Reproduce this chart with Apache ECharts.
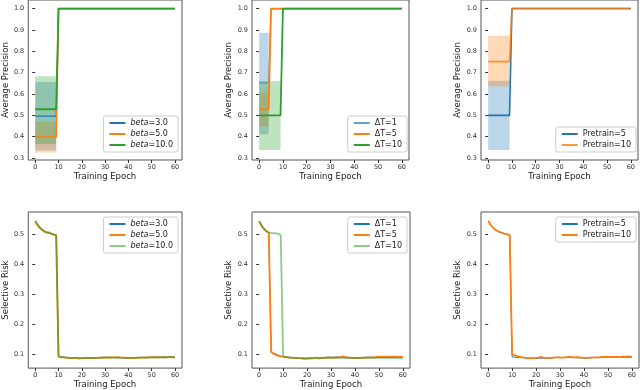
<!DOCTYPE html>
<html>
<head>
<meta charset="utf-8">
<script src="https://cdn.jsdelivr.net/npm/echarts@6/dist/echarts.min.js"></script>
<style>
html, body { margin: 0; padding: 0; background: #fff; }
#chart { width: 640px; height: 390px; }
</style>
</head>
<body>
<div id="chart"></div>
<script>
// epochs for the risk curves
var epochs = Array.from({ length: 61 }, function (_, i) { return i; });
var xTicks = [0, 10, 20, 30, 40, 50, 60];
var apTicks = [0.3, 0.4, 0.5, 0.6, 0.7, 0.8, 0.9, 1.0];
var riskTicks = [0.1, 0.2, 0.3, 0.4, 0.5];

// average precision (mean) and band [epoch, low, high]
var apBeta3 = [[0, 0.496], [9, 0.496], [10, 1.0], [60, 1.0]];
var apBeta5 = [[0, 0.397], [9, 0.397], [10, 1.0], [60, 1.0]];
var apBeta10 = [[0, 0.528], [9, 0.528], [10, 1.0], [60, 1.0]];
var apBeta3Band = [[0, 0.335, 0.656], [9, 0.335, 0.656]];
var apBeta5Band = [[0, 0.325, 0.470], [9, 0.325, 0.470]];
var apBeta10Band = [[0, 0.365, 0.683], [9, 0.365, 0.683]];

var apDT1 = [[0, 0.651], [4, 0.651], [5, 1.0], [60, 1.0]];
var apDT5 = [[0, 0.527], [4, 0.527], [5, 1.0], [60, 1.0]];
var apDT10 = [[0, 0.499], [9, 0.499], [10, 1.0], [60, 1.0]];
var apDT1Band = [[0, 0.411, 0.887], [4, 0.411, 0.887]];
var apDT5Band = [[0, 0.447, 0.607], [4, 0.447, 0.607]];
var apDT10Band = [[0, 0.337, 0.660], [9, 0.337, 0.660]];

var apPre5 = [[0, 0.499], [9, 0.499], [10, 1.0], [60, 1.0]];
var apPre10 = [[0, 0.751], [9, 0.751], [10, 1.0], [60, 1.0]];
var apPre5Band = [[0, 0.337, 0.662], [9, 0.337, 0.662]];
var apPre10Band = [[0, 0.635, 0.872], [9, 0.635, 0.872]];

// selective risk per epoch 0..60
var riskBeta3 = [0.545,0.533,0.523,0.516,0.511,0.507,0.505,0.503,0.500,0.499,
  0.093,0.091,0.090,0.089,0.089,0.088,0.088,0.087,0.087,0.087,0.086,
  0.087,0.087,0.088,0.088,0.087,0.088,0.089,0.089,0.088,0.090,
  0.089,0.089,0.090,0.089,0.088,0.089,0.089,0.088,0.088,0.087,
  0.088,0.088,0.089,0.089,0.089,0.090,0.089,0.090,0.090,0.090,
  0.090,0.090,0.091,0.090,0.092,0.091,0.091,0.090,0.091,0.091];
var riskBeta5 = [0.543,0.531,0.521,0.515,0.509,0.506,0.507,0.502,0.499,0.497,
  0.092,0.090,0.090,0.089,0.088,0.088,0.087,0.088,0.087,0.086,0.087,
  0.087,0.088,0.087,0.088,0.088,0.087,0.088,0.089,0.090,0.089,
  0.090,0.089,0.089,0.090,0.091,0.090,0.089,0.089,0.088,0.088,
  0.087,0.087,0.088,0.089,0.089,0.089,0.090,0.089,0.090,0.090,
  0.091,0.090,0.090,0.091,0.090,0.090,0.091,0.091,0.090,0.090];
var riskBeta10 = [0.546,0.534,0.524,0.517,0.511,0.508,0.505,0.503,0.501,0.499,
  0.093,0.092,0.091,0.090,0.089,0.088,0.088,0.088,0.087,0.087,0.087,
  0.088,0.087,0.087,0.088,0.088,0.088,0.088,0.089,0.089,0.089,
  0.090,0.090,0.090,0.089,0.089,0.089,0.088,0.088,0.088,0.088,
  0.088,0.088,0.088,0.089,0.089,0.089,0.089,0.089,0.090,0.090,
  0.090,0.090,0.090,0.090,0.090,0.090,0.091,0.091,0.091,0.090];

var riskDT1 = [0.545,0.531,0.520,0.512,0.507,
  0.111,0.104,0.101,0.097,0.094,
  0.092,0.091,0.090,0.089,0.089,0.088,0.088,0.087,0.087,0.087,0.086,
  0.087,0.088,0.089,0.088,0.090,0.089,0.089,0.090,0.091,0.090,
  0.090,0.091,0.091,0.090,0.092,0.091,0.090,0.089,0.088,0.088,
  0.088,0.089,0.089,0.090,0.090,0.090,0.091,0.090,0.090,0.091,
  0.091,0.091,0.090,0.091,0.091,0.091,0.091,0.090,0.091,0.090];
var riskDT5 = [0.543,0.529,0.519,0.511,0.506,
  0.108,0.102,0.098,0.095,0.093,
  0.092,0.091,0.090,0.089,0.088,0.088,0.087,0.087,0.086,0.086,0.086,
  0.088,0.087,0.088,0.089,0.088,0.089,0.088,0.089,0.089,0.090,
  0.089,0.090,0.090,0.091,0.093,0.090,0.089,0.089,0.088,0.087,
  0.088,0.088,0.089,0.089,0.090,0.090,0.089,0.090,0.091,0.091,
  0.092,0.091,0.092,0.091,0.091,0.092,0.092,0.091,0.092,0.091];
var riskDT10 = [0.546,0.531,0.519,0.511,0.507,0.505,0.505,0.504,0.502,0.498,
  0.092,0.091,0.090,0.089,0.088,0.088,0.087,0.087,0.087,0.086,0.086,
  0.086,0.086,0.087,0.087,0.086,0.087,0.087,0.088,0.088,0.088,
  0.088,0.088,0.088,0.088,0.088,0.088,0.088,0.087,0.087,0.087,
  0.087,0.087,0.088,0.088,0.088,0.088,0.088,0.088,0.088,0.088,
  0.088,0.088,0.088,0.088,0.088,0.088,0.088,0.088,0.088,0.088];

var riskPre5 = [0.545,0.532,0.522,0.515,0.510,0.507,0.506,0.503,0.500,0.499,
  0.092,0.090,0.090,0.089,0.089,0.088,0.088,0.087,0.087,0.086,0.086,
  0.087,0.087,0.087,0.086,0.086,0.087,0.088,0.089,0.090,0.090,
  0.089,0.089,0.090,0.089,0.089,0.089,0.089,0.088,0.088,0.088,
  0.087,0.088,0.088,0.089,0.089,0.089,0.089,0.090,0.090,0.090,
  0.090,0.090,0.089,0.090,0.090,0.090,0.090,0.090,0.090,0.090];
var riskPre10 = [0.546,0.533,0.523,0.516,0.512,0.508,0.505,0.502,0.501,0.498,
  0.100,0.097,0.094,0.092,0.091,0.089,0.088,0.087,0.087,0.087,0.088,
  0.089,0.092,0.089,0.088,0.087,0.088,0.089,0.090,0.090,0.089,
  0.089,0.090,0.091,0.091,0.091,0.090,0.091,0.090,0.089,0.088,
  0.088,0.089,0.089,0.090,0.090,0.090,0.091,0.091,0.091,0.091,
  0.091,0.091,0.091,0.091,0.091,0.092,0.092,0.092,0.093,0.092];

var BLUE = '#1f77b4', ORANGE = '#ff7f0e', GREEN = '#2ca02c';
var FONT = 'DejaVu Sans';

var grids = [
  { left: 24, top: -1, width: 158, height: 161 },
  { left: 252, top: -1, width: 157, height: 161 },
  { left: 481, top: -1, width: 157, height: 161 },
  { left: 24, top: 212, width: 158, height: 159 },
  { left: 252, top: 212, width: 158, height: 159 },
  { left: 481, top: 212, width: 158, height: 159 }
];

var xAxes = [], yAxes = [];
grids.forEach(function (g, i) {
  g.show = true;
  g.borderColor = '#555';
  g.borderWidth = 1;
  g.containLabel = false;
  var top = i < 3;
  xAxes.push({
    type: 'value', gridIndex: i, min: -3, max: 63,
    name: 'Training Epoch', nameLocation: 'middle', nameGap: top ? 11 : 10,
    nameTextStyle: { fontFamily: FONT, fontSize: 8.5, color: '#222' },
    axisLine: { show: false }, splitLine: { show: false },
    axisTick: { show: true, length: 3, customValues: xTicks, lineStyle: { color: '#333' } },
    axisLabel: { customValues: xTicks, margin: 4, fontFamily: FONT, fontSize: 6.5, color: '#333' }
  });
  yAxes.push({
    type: 'value', gridIndex: i,
    min: top ? 0.29 : 0.054, max: top ? 1.04 : 0.5754,
    name: top ? 'Average Precision' : 'Selective Risk',
    nameLocation: 'middle', nameGap: 15,
    nameTextStyle: { fontFamily: FONT, fontSize: 8.5, color: '#222' },
    axisLine: { show: false }, splitLine: { show: false },
    axisTick: { show: true, length: 3, customValues: top ? apTicks : riskTicks, lineStyle: { color: '#333' } },
    axisLabel: {
      customValues: top ? apTicks : riskTicks, margin: 4,
      fontFamily: FONT, fontSize: 6.5, color: '#333',
      formatter: function (v) { return v.toFixed(1); }
    }
  });
});

var series = [];
// shaded band drawn as one polygon through the axis scales
function band(idx, data, color) {
  series.push({
    type: 'custom', name: 'band' + series.length, xAxisIndex: idx, yAxisIndex: idx,
    silent: true, z: 1,
    data: data,
    encode: { x: 0, y: [1, 2] },
    renderItem: function (params, api) {
      if (params.dataIndex !== 0) return null;
      var upper = data.map(function (d) { return api.coord([d[0], d[2]]); });
      var lower = data.map(function (d) { return api.coord([d[0], d[1]]); }).reverse();
      return {
        type: 'polygon',
        shape: { points: upper.concat(lower) },
        style: { fill: color, opacity: 0.3 }
      };
    }
  });
}
function line(idx, name, data, color, width, opacity) {
  series.push({
    type: 'line', name: name, xAxisIndex: idx, yAxisIndex: idx,
    symbol: 'none', z: 3,
    lineStyle: { color: color, width: width, opacity: opacity },
    itemStyle: { color: color },
    data: data
  });
}
function risk(values) {
  return epochs.map(function (e, i) { return [e, values[i]]; });
}

band(0, apBeta3Band, BLUE); band(0, apBeta5Band, ORANGE); band(0, apBeta10Band, GREEN);
line(0, 'beta=3.0', apBeta3, BLUE, 1.2, 1);
line(0, 'beta=5.0', apBeta5, ORANGE, 1.6, 1);
line(0, 'beta=10.0', apBeta10, GREEN, 1.8, 1);

band(1, apDT1Band, BLUE); band(1, apDT5Band, ORANGE); band(1, apDT10Band, GREEN);
line(1, 'ΔT=1', apDT1, BLUE, 1.2, 0.7);
line(1, 'ΔT=5', apDT5, ORANGE, 1.8, 1);
line(1, 'ΔT=10', apDT10, GREEN, 1.8, 1);

band(2, apPre5Band, BLUE); band(2, apPre10Band, ORANGE);
line(2, 'Pretrain=5', apPre5, BLUE, 1.6, 1);
line(2, 'Pretrain=10', apPre10, ORANGE, 1.8, 0.8);

line(3, 'beta=3.0 ', risk(riskBeta3), BLUE, 1, 1);
line(3, 'beta=5.0 ', risk(riskBeta5), ORANGE, 1.8, 1);
line(3, 'beta=10.0 ', risk(riskBeta10), GREEN, 1.8, 0.55);

line(4, 'ΔT=1 ', risk(riskDT1), BLUE, 1, 1);
line(4, 'ΔT=5 ', risk(riskDT5), ORANGE, 1.8, 1);
line(4, 'ΔT=10 ', risk(riskDT10), GREEN, 1.8, 0.55);

line(5, 'Pretrain=5 ', risk(riskPre5), BLUE, 1, 1);
line(5, 'Pretrain=10 ', risk(riskPre10), ORANGE, 1.8, 1);

function legend(names, pos) {
  return Object.assign({
    data: names, orient: 'vertical',
    itemWidth: 16, itemHeight: 8, itemGap: 3,
    padding: [3, 5, 3, 5],
    itemStyle: { opacity: 0 },
    backgroundColor: '#fff', borderColor: '#ccc', borderWidth: 1, borderRadius: 2,
    selectedMode: false,
    textStyle: {
      fontFamily: FONT, fontSize: 8, color: '#222',
      rich: { i: { fontFamily: FONT, fontSize: 8, fontStyle: 'italic', color: '#222' } }
    },
    formatter: function (n) { return n.trim().replace('beta', '{i|beta}'); }
  }, pos);
}

var chart = echarts.init(document.getElementById('chart'), null, { renderer: 'canvas' });
chart.setOption({
  animation: false,
  backgroundColor: '#fff',
  grid: grids,
  xAxis: xAxes,
  yAxis: yAxes,
  legend: [
    legend(['beta=3.0', 'beta=5.0', 'beta=10.0'], { right: 462, bottom: 238 }),
    legend(['ΔT=1', 'ΔT=5', 'ΔT=10'], { right: 233, bottom: 238 }),
    legend(['Pretrain=5', 'Pretrain=10'], { right: 4, bottom: 238 }),
    legend(['beta=3.0 ', 'beta=5.0 ', 'beta=10.0 '], { right: 462, top: 217 }),
    legend(['ΔT=1 ', 'ΔT=5 ', 'ΔT=10 '], { right: 233, top: 217 }),
    legend(['Pretrain=5 ', 'Pretrain=10 '], { right: 4, top: 217 })
  ],
  series: series
});
</script>
</body>
</html>
